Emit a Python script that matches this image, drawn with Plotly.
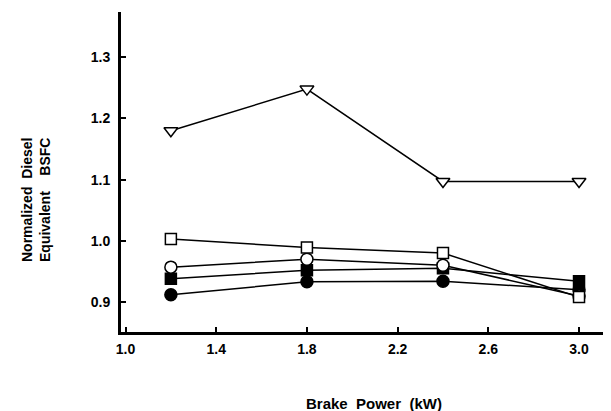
import plotly.graph_objects as go

power = [1.2, 1.8, 2.4, 3.0]
tri_open = [1.180, 1.248, 1.097, 1.097]
sq_filled = [0.938, 0.952, 0.955, 0.934]
circ_filled = [0.912, 0.933, 0.934, 0.920]
circ_open = [0.957, 0.970, 0.960, 0.910]
sq_open = [1.003, 0.989, 0.980, 0.908]

x_ticks = [1.0, 1.4, 1.8, 2.2, 2.6, 3.0]
y_ticks = [0.9, 1.0, 1.1, 1.2, 1.3]

series = [
    (tri_open, "triangle-down", "white", 12),
    (circ_filled, "circle", "black", 12),
    (sq_filled, "square", "black", 11),
    (circ_open, "circle", "white", 12),
    (sq_open, "square", "white", 11),
]

fig = go.Figure()
for ys, sym, fill, size in series:
    fig.add_trace(go.Scatter(
        x=power, y=ys, mode="lines+markers",
        line=dict(color="black", width=1.5),
        marker=dict(symbol=sym, size=size, color=fill,
                    line=dict(color="black", width=1.5)),
        showlegend=False, cliponaxis=False,
    ))

fam = "Liberation Sans, Arial, sans-serif"
font = dict(family=fam, size=13, color="black")

# page body has an 8px margin; compensate
OFF = 8
L, T, R, B = 121 - OFF, 12 - OFF, OFF, 411 - 332 + OFF
W, H = 611, 411

fig.update_layout(
    width=W, height=H,
    margin=dict(l=L, r=R, t=T, b=B, autoexpand=False),
    paper_bgcolor="white", plot_bgcolor="white",
    font=font,
    xaxis=dict(range=[0.98, 3.141], tickvals=x_ticks,
               ticktext=["<b>%.1f</b>" % v for v in x_ticks],
               tickfont=dict(family=fam, size=14, color="black"),
               showgrid=False, zeroline=False, showline=True,
               linecolor="black", linewidth=3, ticklabelstandoff=2,
               ticks="inside", ticklen=5, tickwidth=1.5, tickcolor="black"),
    yaxis=dict(range=[0.851, 1.374], tickvals=y_ticks,
               ticktext=["<b>%.1f</b>" % v for v in y_ticks],
               tickfont=dict(family=fam, size=14, color="black"),
               showgrid=False, zeroline=False, showline=True,
               linecolor="black", linewidth=3, ticklabelstandoff=5,
               ticks="inside", ticklen=5, tickwidth=1.5, tickcolor="black"),
)

pw = W - L - R
ph = H - T - B


def to_paper(px, py):
    return (px - OFF - L) / pw, (H - B - (py - OFF)) / ph


ax, ay = to_paper(36, 200)
bx, by = to_paper(374, 403)
fig.add_annotation(text="<b>Normalized  Diesel</b><br><b>Equivalent    BSFC</b>",
                   x=ax, y=ay, xref="paper", yref="paper", showarrow=False,
                   xanchor="center", yanchor="middle", align="left",
                   textangle=-90, font=dict(family=fam, size=14, color="black"))
fig.add_annotation(text="<b>Brake  Power  (kW)</b>", x=bx, y=by,
                   xref="paper", yref="paper", showarrow=False,
                   xanchor="center", yanchor="middle",
                   font=dict(family=fam, size=15, color="black"))

fig.write_html("out.html")
